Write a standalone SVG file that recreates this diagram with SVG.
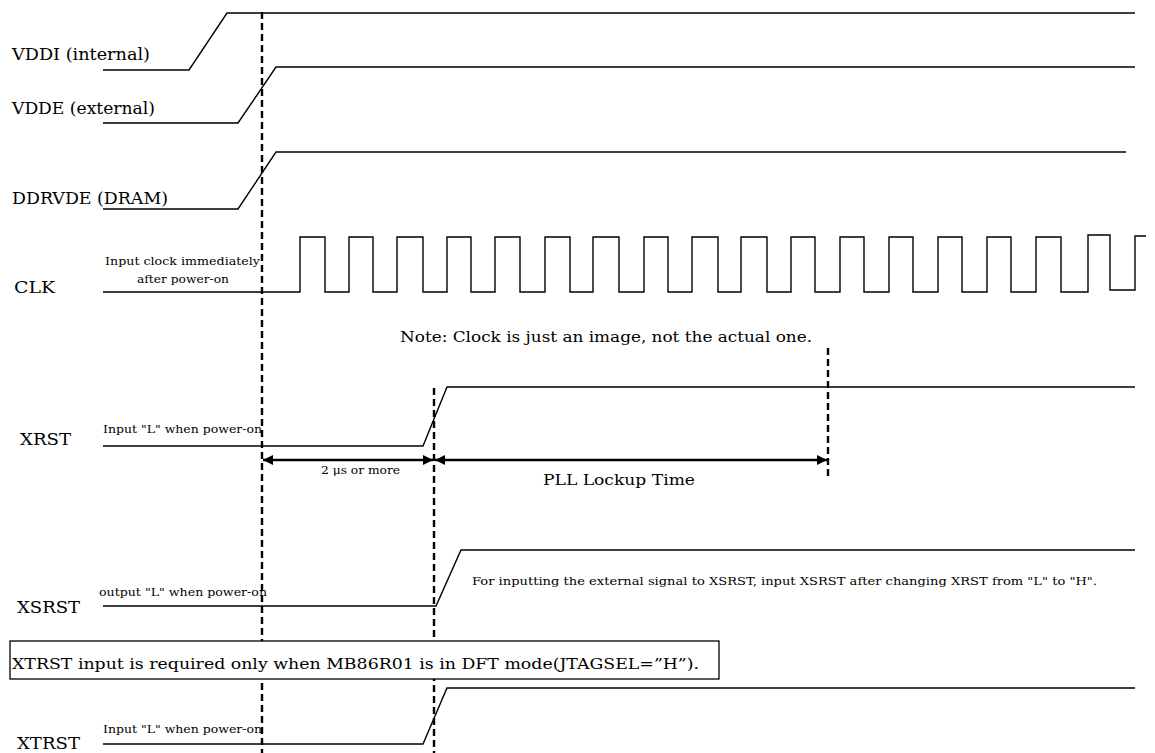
<svg xmlns="http://www.w3.org/2000/svg" width="1155" height="753" viewBox="0 0 1155 753">
<style>
text{font-family:"DejaVu Serif","Liberation Serif",serif;fill:#000}
.lbl{font-size:16px}
.sm{font-size:11px}
.md{font-size:15px}
.sig{fill:none;stroke:#000;stroke-width:1.4}
.dash{fill:none;stroke:#000;stroke-width:2.4;stroke-dasharray:7,4}
.arr{fill:none;stroke:#000;stroke-width:2.5}
</style>
<defs>
<marker id="ah" viewBox="0 0 10 10" refX="10" refY="5" markerWidth="4.5" markerHeight="4" orient="auto-start-reverse" markerUnits="strokeWidth">
<path d="M0,0 L10,5 L0,10 z" fill="#000"/>
</marker>
</defs>
<rect width="1155" height="753" fill="#fff"/>
<g id="vddi">
<text class="lbl" x="12" y="60" textLength="138" lengthAdjust="spacingAndGlyphs">VDDI (internal)</text>
<path class="sig" d="M103,70 H189 L227,13 H1135"/>
</g>
<g id="vdde">
<text class="lbl" x="12" y="114" textLength="143" lengthAdjust="spacingAndGlyphs">VDDE (external)</text>
<path class="sig" d="M103,123 H238 L276,67 H1135"/>
</g>
<g id="ddrvde">
<text class="lbl" x="12" y="204" textLength="156" lengthAdjust="spacingAndGlyphs">DDRVDE (DRAM)</text>
<path class="sig" d="M103,209 H238 L276,152 H1126"/>
</g>
<g id="clk">
<text class="lbl" x="14" y="293" textLength="41" lengthAdjust="spacingAndGlyphs">CLK</text>
<text class="sm" x="105" y="265" textLength="155" lengthAdjust="spacingAndGlyphs">Input clock immediately</text>
<text class="sm" x="137" y="283" textLength="92" lengthAdjust="spacingAndGlyphs">after power-on</text>
<path class="sig" d="M103,292 H300 V237 H325 V292 H349 V237 H373 V292 H397 V237 H423 V292 H447 V237 H471 V292 H495 V237 H520 V292 H545 V237 H570 V292 H593 V237 H619 V292 H644 V237 H668 V292 H692 V237 H718 V292 H741 V237 H767 V292 H791 V237 H815 V292 H840 V237 H864 V292 H889 V237 H913 V292 H938 V237 H962 V292 H987 V237 H1011 V292 H1036 V237 H1061 V292 H1088 V235 H1110 V290 H1135 V236 H1146"/>
<text class="md" x="400" y="342" textLength="412" lengthAdjust="spacingAndGlyphs">Note: Clock is just an image, not the actual one.</text>
</g>
<g id="xrst">
<text class="lbl" x="20" y="445" textLength="51" lengthAdjust="spacingAndGlyphs">XRST</text>
<text class="sm" x="103" y="433" textLength="159" lengthAdjust="spacingAndGlyphs">Input "L" when power-on</text>
<path class="sig" d="M103,446 H423 L447,387 H1135"/>
</g>
<g id="xsrst">
<text class="lbl" x="17" y="613" textLength="63" lengthAdjust="spacingAndGlyphs">XSRST</text>
<text class="sm" x="99" y="596" textLength="168" lengthAdjust="spacingAndGlyphs">output "L" when power-on</text>
<path class="sig" d="M103,606 H436 L461,550 H1135"/>
<text class="sm" x="472" y="585" textLength="625" lengthAdjust="spacingAndGlyphs">For inputting the external signal to XSRST, input XSRST after changing XRST from "L" to "H".</text>
</g>
<g id="xtrst">
<text class="lbl" x="17" y="749" textLength="63" lengthAdjust="spacingAndGlyphs">XTRST</text>
<text class="sm" x="103" y="733" textLength="159" lengthAdjust="spacingAndGlyphs">Input "L" when power-on</text>
<path class="sig" d="M103,744 H423 L447,688 H1135"/>
</g>
<g id="connectors">
<line class="dash" x1="262" y1="12" x2="262" y2="753"/>
<line class="dash" x1="434" y1="388" x2="434" y2="753"/>
<line class="dash" x1="828" y1="348" x2="828" y2="478"/>
<line class="arr" x1="263" y1="460" x2="433" y2="460" marker-start="url(#ah)" marker-end="url(#ah)"/>
<line class="arr" x1="435" y1="460" x2="827" y2="460" marker-start="url(#ah)" marker-end="url(#ah)"/>
<text class="sm" x="321" y="474" textLength="79" lengthAdjust="spacingAndGlyphs">2 μs or more</text>
<text class="md" x="543" y="485" textLength="152" lengthAdjust="spacingAndGlyphs">PLL Lockup Time</text>
</g>
<g id="note-box">
<rect x="10" y="641" width="709" height="38" fill="#fff" stroke="#000" stroke-width="1.3"/>
<text class="md" x="12" y="669" textLength="687" lengthAdjust="spacingAndGlyphs">XTRST input is required only when MB86R01 is in DFT mode(JTAGSEL=”H”).</text>
</g>
</svg>
